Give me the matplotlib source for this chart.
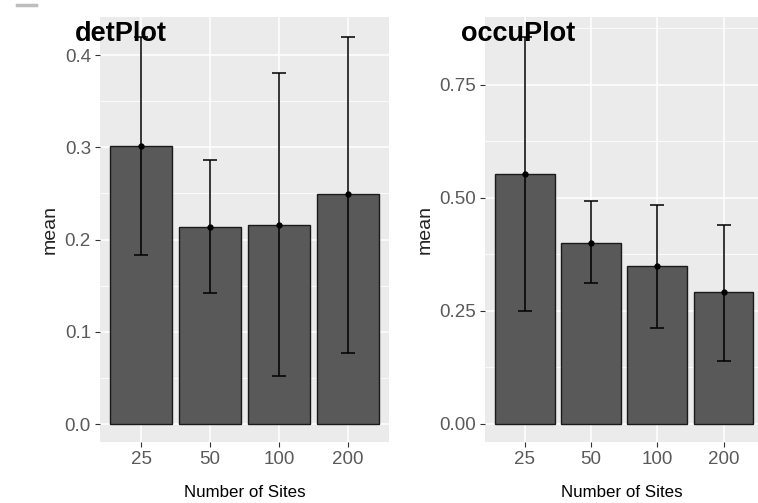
import numpy as np
from matplotlib import pyplot as plt
from matplotlib.ticker import FixedLocator
from matplotlib.lines import Line2D

plt.rcParams['font.family'] = ['Liberation Sans', 'DejaVu Sans']

sites = ['25', '50', '100', '200']

det_mean = [0.301, 0.214, 0.216, 0.249]
det_low = [0.183, 0.142, 0.052, 0.077]
det_high = [0.419, 0.286, 0.381, 0.419]

occu_mean = [0.553, 0.401, 0.350, 0.292]
occu_low = [0.250, 0.311, 0.212, 0.140]
occu_high = [0.855, 0.494, 0.485, 0.440]

W, H = 758, 503


def px_axes(fig, x0, y0, x1, y1):
    # pixel box (top-left origin) -> figure axes
    return fig.add_axes([x0 / W, 1 - y1 / H, (x1 - x0) / W, (y1 - y0) / H])


def draw_panel(ax, means, low, high, ylim, major, minor, fmt, xlim):
    x = np.arange(1, len(sites) + 1)
    ax.set_facecolor('#EBEBEB')
    ax.bar(x, means, width=0.9, color='#595959', edgecolor='#1a1a1a', linewidth=1.0, zorder=2)
    m = np.array(means)
    yerr = [m - np.array(low), np.array(high) - m]
    ax.errorbar(x, means, yerr=yerr, fmt='o', color='black', ms=3.5,
                elinewidth=1.1, capsize=4.8, capthick=1.1, zorder=3, clip_on=True)
    ax.set_ylim(*ylim)
    ax.set_xlim(*xlim)
    ax.set_xticks(x)
    ax.set_xticklabels(sites)
    ax.yaxis.set_major_locator(FixedLocator(major))
    ax.yaxis.set_minor_locator(FixedLocator(minor))
    ax.set_yticklabels([fmt.format(v) for v in major])
    ax.grid(True, which='major', color='white', linewidth=1.1, zorder=0)
    ax.grid(True, which='minor', axis='y', color='white', linewidth=0.55, zorder=0)
    ax.set_axisbelow(True)
    for s in ax.spines.values():
        s.set_visible(False)
    ax.tick_params(axis='both', which='major', length=3.5, width=0.8, color='#333333',
                   labelcolor='#5A5A5A', labelsize=13.5, pad=3)
    ax.tick_params(axis='y', which='minor', length=0)
    ax.set_xlabel('Number of Sites', fontsize=12.2, color='black', labelpad=12)
    ax.set_ylabel('mean', fontsize=14, color='#222222', labelpad=4)


fig = plt.figure(figsize=(W / 100, H / 100), dpi=100)

ax1 = px_axes(fig, 100, 17, 389, 442)
draw_panel(ax1, det_mean, det_low, det_high, (-0.0195, 0.4412),
           [0.0, 0.1, 0.2, 0.3, 0.4], [0.05, 0.15, 0.25, 0.35], '{:.1f}', (0.4, 4.6))

ax2 = px_axes(fig, 485, 17, 758, 442)
draw_panel(ax2, occu_mean, occu_low, occu_high, (-0.04, 0.90),
           [0.0, 0.25, 0.5, 0.75], [0.125, 0.375, 0.625, 0.875], '{:.2f}', (0.4, 4.52))

fig.text(75 / W, 1 - 41 / H, 'detPlot', fontsize=19.5, fontweight='bold', ha='left', va='baseline')
fig.text(461 / W, 1 - 41 / H, 'occuPlot', fontsize=19.5, fontweight='bold', ha='left', va='baseline')

# small grey dash in top-left corner
fig.add_artist(Line2D([17 / W, 36 / W], [1 - 5 / H, 1 - 5 / H], color='#BDBDBD', linewidth=2.5))

fig.savefig('out.png', dpi=100)
